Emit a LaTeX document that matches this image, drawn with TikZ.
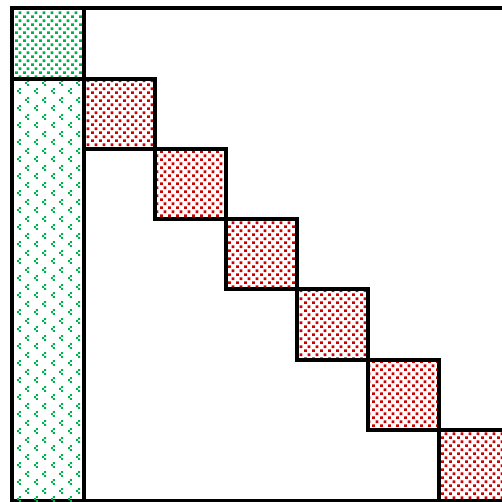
\documentclass[tikz,border=0pt]{standalone}
\usetikzlibrary{patterns}
\definecolor{blkgreen}{RGB}{0,176,80}
\definecolor{blkred}{RGB}{204,0,0}
\pgfdeclarepatternformonly{densesq}{\pgfpointorigin}{\pgfqpoint{7.6pt}{8.4pt}}{\pgfqpoint{7.6pt}{8.4pt}}{%
  \pgfpathrectangle{\pgfqpoint{0pt}{0pt}}{\pgfqpoint{2.9pt}{2.9pt}}%
  \pgfpathrectangle{\pgfqpoint{3.8pt}{4.2pt}}{\pgfqpoint{2.9pt}{2.9pt}}%
  \pgfusepath{fill}}
\pgfdeclarepatternformonly{sparsecl}{\pgfpointorigin}{\pgfqpoint{16.6pt}{16.6pt}}{\pgfqpoint{16.6pt}{16.6pt}}{%
  \pgfpathrectangle{\pgfqpoint{2pt}{0pt}}{\pgfqpoint{2pt}{2pt}}%
  \pgfpathrectangle{\pgfqpoint{0pt}{2pt}}{\pgfqpoint{2pt}{2pt}}%
  \pgfpathrectangle{\pgfqpoint{2pt}{4pt}}{\pgfqpoint{2pt}{2pt}}%
  \pgfpathrectangle{\pgfqpoint{10.3pt}{8.3pt}}{\pgfqpoint{2pt}{2pt}}%
  \pgfpathrectangle{\pgfqpoint{8.3pt}{10.3pt}}{\pgfqpoint{2pt}{2pt}}%
  \pgfpathrectangle{\pgfqpoint{10.3pt}{12.3pt}}{\pgfqpoint{2pt}{2pt}}%
  \pgfusepath{fill}}
\tikzset{
  frame/.style={draw=black, line width=3.2pt},
  greenblk/.style={frame, pattern=densesq, pattern color=blkgreen},
  greencol/.style={frame, pattern=sparsecl, pattern color=blkgreen},
  redblk/.style={frame, pattern=densesq, pattern color=blkred}
}
\begin{document}
\begin{tikzpicture}[x=1pt,y=-1pt]
\useasboundingbox (0,0) rectangle (502,502);
\fill[white] (0,0) rectangle (502,502);
\draw[frame] (12,8) rectangle (512,501);
\draw[greenblk] (12,8) rectangle (84,79);
\draw[greencol] (12,79) rectangle (84,512);
\draw[redblk] (84,79) rectangle (155,149);
\draw[redblk] (155,149) rectangle (226,219);
\draw[redblk] (226,219) rectangle (297,289);
\draw[redblk] (297,289) rectangle (368,360);
\draw[redblk] (368,360) rectangle (439,430);
\draw[redblk] (439,430) rectangle (512,501);
\end{tikzpicture}
\end{document}
